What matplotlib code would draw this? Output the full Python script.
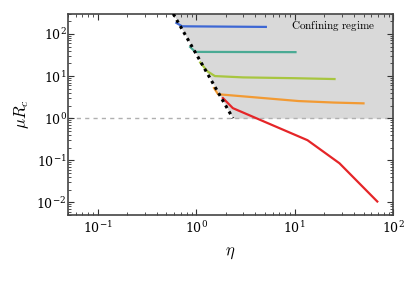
import matplotlib
matplotlib.use("Agg")
import matplotlib.pyplot as plt
import numpy as np

plt.rcParams['mathtext.fontset'] = 'cm'
plt.rcParams['font.family'] = 'serif'
plt.rcParams['font.serif'] = ['DejaVu Serif']

# boundary of confining regime (dotted line)
eta_bound = [0.586, 2.36]
muR_bound = [300.0, 1.0]

# curves
eta_blue = [0.63, 0.72, 5.1]
muR_blue = [183, 152, 147]
eta_teal = [0.87, 0.98, 10.2]
muR_teal = [49, 37.5, 37]
eta_green = [1.10, 1.30, 1.55, 3.0, 10.0, 25.4]
muR_green = [21, 13, 10, 9.3, 8.9, 8.5]
eta_orange = [1.52, 1.67, 3.5, 11.0, 25.0, 50.0]
muR_orange = [5.2, 3.7, 3.2, 2.55, 2.35, 2.25]
eta_red = [1.87, 2.36, 13.5, 28.5, 69.0]
muR_red = [3.0, 1.73, 0.30, 0.085, 0.0105]

colors = ['#3d67d4', '#4aaa94', '#a8c640', '#f29a33', '#e52528']

xlim = (0.05, 100)
ylim = (0.005, 300)

fig = plt.figure(figsize=(4.07, 2.83), dpi=100)
ax = fig.add_axes([0.167, 0.240, 0.799, 0.711])

# shaded confining region
ax.fill_betweenx(muR_bound, eta_bound, [xlim[1], xlim[1]], color='#d9d9d9', lw=0, zorder=0)
ax.axhline(1.0, color='#b0b0b0', ls=(0, (3, 3)), lw=1.0, zorder=1)

for ex, my, c in zip([eta_blue, eta_teal, eta_green, eta_orange, eta_red],
                     [muR_blue, muR_teal, muR_green, muR_orange, muR_red], colors):
    ax.plot(ex, my, color=c, lw=1.6, zorder=2)

ax.plot(eta_bound, muR_bound, color='black', ls=(0, (1, 1.3)), lw=2.2, zorder=3)

ax.set_xscale('log')
ax.set_yscale('log')
ax.set_xlim(*xlim)
ax.set_ylim(*ylim)

ax.tick_params(which='both', direction='in', top=True, right=True, labelsize=9, color='#333333')
ax.tick_params(which='major', length=4, width=0.8)
ax.tick_params(which='minor', length=2, width=0.6)
ax.tick_params(axis='y', which='both', pad=1)
for s in ax.spines.values():
    s.set_color('#444444')
    s.set_linewidth(1.2)

ax.set_xlabel(r'$\eta$', fontsize=12, labelpad=6)
ax.set_ylabel(r'$\mu R_c$', fontsize=12, labelpad=4)

ax.text(0.945, 0.94, r'$\mathrm{Confining\ regime}$', transform=ax.transAxes,
        ha='right', va='center', fontsize=8)

fig.savefig('out.png', dpi=100)
